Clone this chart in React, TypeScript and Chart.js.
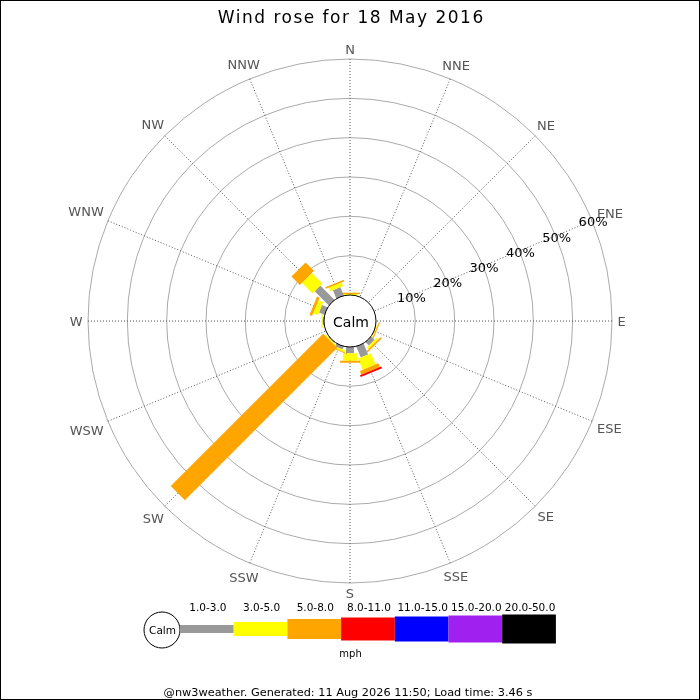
import React, { useEffect, useRef } from 'react';
import { Chart, registerables } from 'chart.js';

Chart.register(...registerables);

// ---- data ----
const directions = ['N', 'NNE', 'NE', 'ENE', 'E', 'ESE', 'SE', 'SSE', 'S', 'SSW', 'SW', 'WSW', 'W', 'WNW', 'NW', 'NNW'];
const speedBands = ['1.0-3.0', '3.0-5.0', '5.0-8.0', '8.0-11.0', '11.0-15.0', '15.0-20.0', '20.0-50.0'];
// percent frequency per direction, per speed band (mph)
const band1to3 = [0, 0, 0, 0, 0, 0.1, 1.2, 3.0, 1.6, 0.8, 0.2, 0, 0.35, 1.5, 5.1, 2.3];
const band3to5 = [0.25, 0, 0, 0, 0, 0.2, 0.6, 3.1, 1.9, 0.5, 0.3, 0, 0.3, 1.3, 3.8, 1.0];
const band5to8 = [0.35, 0, 0, 0, 0, 0.3, 0.4, 1.0, 0.5, 0.2, 54.8, 0, 0, 0.7, 3.0, 0.4];
const band8to11 = [0, 0, 0, 0, 0, 0, 0, 0.5, 0, 0, 0, 0, 0, 0, 0, 0];
const band11to15 = [0, 0, 0, 0, 0, 0, 0, 0, 0, 0, 0, 0, 0, 0, 0, 0];
const band15to20 = [0, 0, 0, 0, 0, 0, 0, 0, 0, 0, 0, 0, 0, 0, 0, 0];
const band20to50 = [0, 0, 0, 0, 0, 0, 0, 0, 0, 0, 0, 0, 0, 0, 0, 0];
const radialTicks = [10, 20, 30, 40, 50, 60];
const tickLabels = ['10%', '20%', '30%', '40%', '50%', '60%'];
const titleText = 'Wind rose for 18 May 2016';
const unitText = 'mph';
const calmText = 'Calm';
const footerText = '@nw3weather. Generated: 11 Aug 2026 11:50; Load time: 3.46 s';

// ---- styles ----
const bandColors = ['#999999', '#ffff00', '#ffa500', '#ff0000', '#0000ff', '#a020f0', '#000000'];
const bandWidths = [8, 14, 20, 23, 25, 27, 29];
const FONT = '"DejaVu Sans", Verdana, sans-serif';
const CALM_PX = 26;
const R_PX = 262;
const R_MAX = 60;
const R_MIN = -(CALM_PX * R_MAX) / (R_PX - CALM_PX);

const roseBars = {
  id: 'roseBars',
  afterDatasetsDraw(chart: any) {
    const scale = chart.scales.r;
    const ctx = chart.ctx;
    ctx.save();
    for (let i = 0; i < directions.length; i++) {
      let cum = 0;
      chart.data.datasets.forEach((ds: any, b: number) => {
        const v = ds.data[i];
        if (!v) return;
        const r0 = cum === 0 ? 0 : scale.getDistanceFromCenterForValue(cum);
        const r1 = scale.getDistanceFromCenterForValue(cum + v);
        cum += v;
        const p0 = scale.getPointPosition(i, r0);
        const p1 = scale.getPointPosition(i, r1);
        const a = scale.getIndexAngle(i) - Math.PI / 2;
        const hw = bandWidths[b] / 2;
        const px = -Math.sin(a) * hw;
        const py = Math.cos(a) * hw;
        ctx.beginPath();
        ctx.moveTo(p0.x + px, p0.y + py);
        ctx.lineTo(p1.x + px, p1.y + py);
        ctx.lineTo(p1.x - px, p1.y - py);
        ctx.lineTo(p0.x - px, p0.y - py);
        ctx.closePath();
        ctx.fillStyle = ds.backgroundColor;
        ctx.fill();
      });
    }
    // calm circle
    const rc = scale.getDistanceFromCenterForValue(0);
    ctx.beginPath();
    ctx.arc(scale.xCenter, scale.yCenter, rc, 0, Math.PI * 2);
    ctx.fillStyle = '#ffffff';
    ctx.fill();
    ctx.lineWidth = 1;
    ctx.strokeStyle = '#000000';
    ctx.stroke();
    ctx.fillStyle = '#000000';
    ctx.font = `14px ${FONT}`;
    ctx.textAlign = 'center';
    ctx.textBaseline = 'alphabetic';
    ctx.fillText(calmText, scale.xCenter + 1, scale.yCenter + 5.5);
    ctx.restore();
  },
  afterDraw(chart: any) {
    const scale = chart.scales.r;
    const ctx = chart.ctx;
    ctx.save();
    ctx.textBaseline = 'alphabetic';
    // compass labels
    ctx.font = `13px ${FONT}`;
    ctx.fillStyle = '#555555';
    ctx.textAlign = 'center';
    const capH = 13 * 0.729;
    directions.forEach((d, i) => {
      const w = ctx.measureText(d).width;
      const th = scale.getIndexAngle(i);
      const dist = scale.drawingArea + 5.5 + (w / 2) * Math.abs(Math.sin(th)) + (capH / 2) * Math.abs(Math.cos(th));
      const p = scale.getPointPosition(i, dist);
      ctx.fillText(d, p.x, p.y + capH / 2);
    });
    // percent labels along ENE
    ctx.fillStyle = '#000000';
    radialTicks.forEach((v, k) => {
      const p = scale.getPointPosition(3, scale.getDistanceFromCenterForValue(v));
      ctx.fillText(tickLabels[k], p.x + 1, p.y + 1 + capH / 2);
    });
    // title
    ctx.font = `17px ${FONT}`;
    (ctx as any).letterSpacing = '1.5px';
    ctx.textAlign = 'left';
    const tw = ctx.measureText(titleText).width - 1.5;
    ctx.fillText(titleText, 350.5 - tw / 2, 23);
    (ctx as any).letterSpacing = '0px';
    // legend
    const lx = 180;
    const ly = 629;
    const seg = 53.7;
    ctx.beginPath();
    ctx.arc(162, 630, 18, 0, Math.PI * 2);
    ctx.fillStyle = '#ffffff';
    ctx.fill();
    ctx.strokeStyle = '#000000';
    ctx.lineWidth = 1;
    ctx.stroke();
    ctx.fillStyle = '#000000';
    ctx.font = `10.5px ${FONT}`;
    ctx.textAlign = 'center';
    ctx.fillText(calmText, 162.5, 634);
    speedBands.forEach((lbl, b) => {
      const x0 = lx + seg * b;
      ctx.fillStyle = bandColors[b];
      ctx.fillRect(x0, ly - bandWidths[b] / 2, seg, bandWidths[b]);
      ctx.fillStyle = '#000000';
      ctx.fillText(lbl, x0 + seg / 2 + 1, 611);
    });
    ctx.font = `10px ${FONT}`;
    ctx.fillText(unitText, 350.5, 657);
    // footer
    ctx.font = `11.3px ${FONT}`;
    ctx.fillText(footerText, 348, 695.5);
    // frame
    ctx.strokeStyle = '#000000';
    ctx.lineWidth = 1;
    ctx.strokeRect(0.5, 0.5, 699, 699);
    ctx.restore();
  },
};

export default function App() {
  const canvasRef = useRef<HTMLCanvasElement | null>(null);
  useEffect(() => {
    if (!canvasRef.current) return;
    const bands = [band1to3, band3to5, band5to8, band8to11, band11to15, band15to20, band20to50];
    const chart = new Chart(canvasRef.current, {
      type: 'radar',
      data: {
        labels: directions,
        datasets: bands.map((data, b) => ({
          label: speedBands[b],
          data,
          backgroundColor: bandColors[b],
          borderColor: bandColors[b],
          showLine: false,
          pointRadius: 0,
          pointHoverRadius: 0,
          pointHitRadius: 0,
          fill: false,
        })),
      },
      options: {
        responsive: false,
        animation: false,
        events: [],
        layout: { padding: { left: 88, right: 88, top: 59, bottom: 117 } },
        plugins: {
          legend: { display: false },
          title: { display: false },
          tooltip: { enabled: false },
        },
        scales: {
          r: {
            min: R_MIN,
            max: R_MAX,
            afterBuildTicks: (scale: any) => {
              scale.ticks = radialTicks.map((v) => ({ value: v }));
            },
            ticks: { display: false },
            pointLabels: { display: false },
            grid: { circular: true, color: '#aaaaaa', lineWidth: 1 },
            angleLines: { display: true, color: '#555555', lineWidth: 1, borderDash: [1, 2] },
          },
        },
      } as any,
      plugins: [roseBars],
    });
    return () => chart.destroy();
  }, []);
  return (
    <div style={{ position: 'absolute', left: 0, top: 0, width: 700, height: 700, background: '#ffffff' }}>
      <canvas ref={canvasRef} width={700} height={700} style={{ display: 'block' }} />
    </div>
  );
}
